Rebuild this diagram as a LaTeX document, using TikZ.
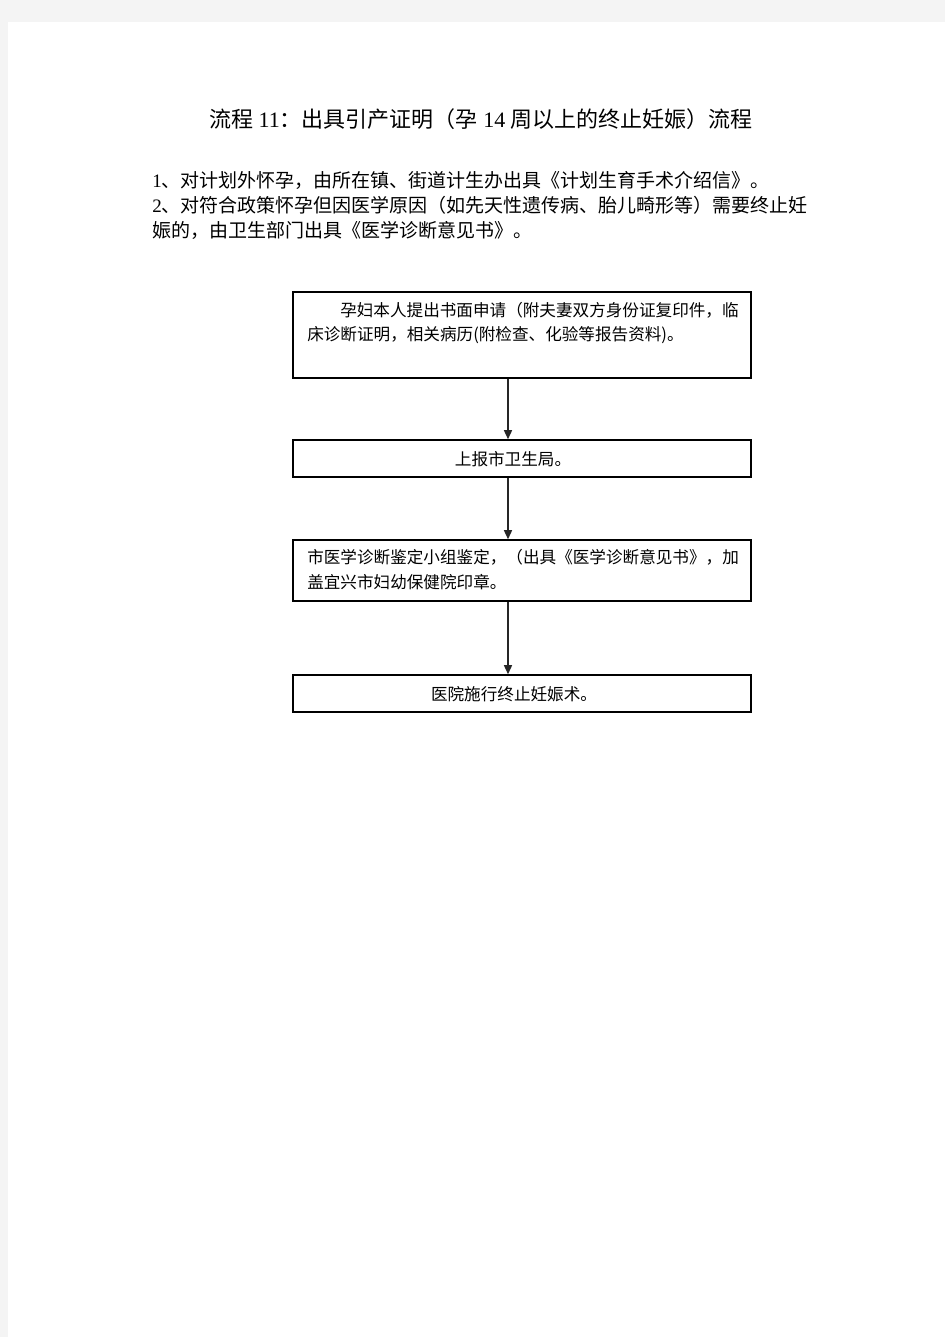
\documentclass[tikz,border=0pt]{standalone}
\usepackage{fontspec}
\setmainfont{Noto Sans CJK SC}
\newfontfamily\lat{Liberation Serif}
\usetikzlibrary{arrows.meta,fit}
\definecolor{pagegray}{RGB}{244,244,244}
\tikzset{
  box/.style={draw=black, line width=1.1pt, inner sep=0pt},
  arr/.style={draw=black!85, line width=1.1pt, -{Triangle[length=6.8pt,width=6pt]}},
  txt/.style={inner sep=0pt, font=\fontsize{12.45pt}{15pt}\selectfont},
  intro/.style={inner sep=0pt, anchor=west, font=\fontsize{14.25pt}{17pt}\selectfont},
  ttl/.style={inner sep=0pt, font=\fontsize{16.5pt}{20pt}\selectfont}
}
\begin{document}
\begin{tikzpicture}[x=0.75pt,y=-0.75pt]
\useasboundingbox (0,0) rectangle (945,1337);
\fill[pagegray] (0,0) rectangle (945,1337);
\fill[white] (8,22) rectangle (945,1337);

\node[ttl] (title) at (481,119) {流程\hspace{4pt}{\lat 11}：出具引产证明（孕\hspace{4pt}{\lat 14}\hspace{4pt}周以上的终止妊娠）流程};

\node[intro] (i1) at (152,180) {{\lat 1}、对计划外怀孕，由所在镇、街道计生办出具《计划生育手术介绍信》。};
\node[intro] (i2) at (152,205) {{\lat 2}、对符合政策怀孕但因医学原因（如先天性遗传病、胎儿畸形等）需要终止妊};
\node[intro] (i3) at (152,230) {娠的，由卫生部门出具《医学诊断意见书》。};

\node[box, fit={(293,292) (751,378)}] (b1) {};
\node[box, fit={(293,440) (751,477)}] (b2) {};
\node[box, fit={(293,540) (751,601)}] (b3) {};
\node[box, fit={(293,675) (751,712)}] (b4) {};

\node[txt, anchor=west] (t1a) at (340,310) {孕妇本人提出书面申请（附夫妻双方身份证复印件，临};
\node[txt, anchor=west] (t1b) at (307,335) {床诊断证明，相关病历(附检查、化验等报告资料)。};
\node[txt] (t2) at (513,459) {上报市卫生局。};
\node[txt, anchor=west] (t3a) at (307,557) {市医学诊断鉴定小组鉴定，（出具《医学诊断意见书》，加};
\node[txt, anchor=west] (t3b) at (307,582) {盖宜兴市妇幼保健院印章。};
\node[txt] (t4) at (514,694) {医院施行终止妊娠术。};

\coordinate (ax) at (508,0);
\draw[arr] (b1.south -| ax) -- (b2.north -| ax);
\draw[arr] (b2.south -| ax) -- (b3.north -| ax);
\draw[arr] (b3.south -| ax) -- (b4.north -| ax);
\end{tikzpicture}
\end{document}
